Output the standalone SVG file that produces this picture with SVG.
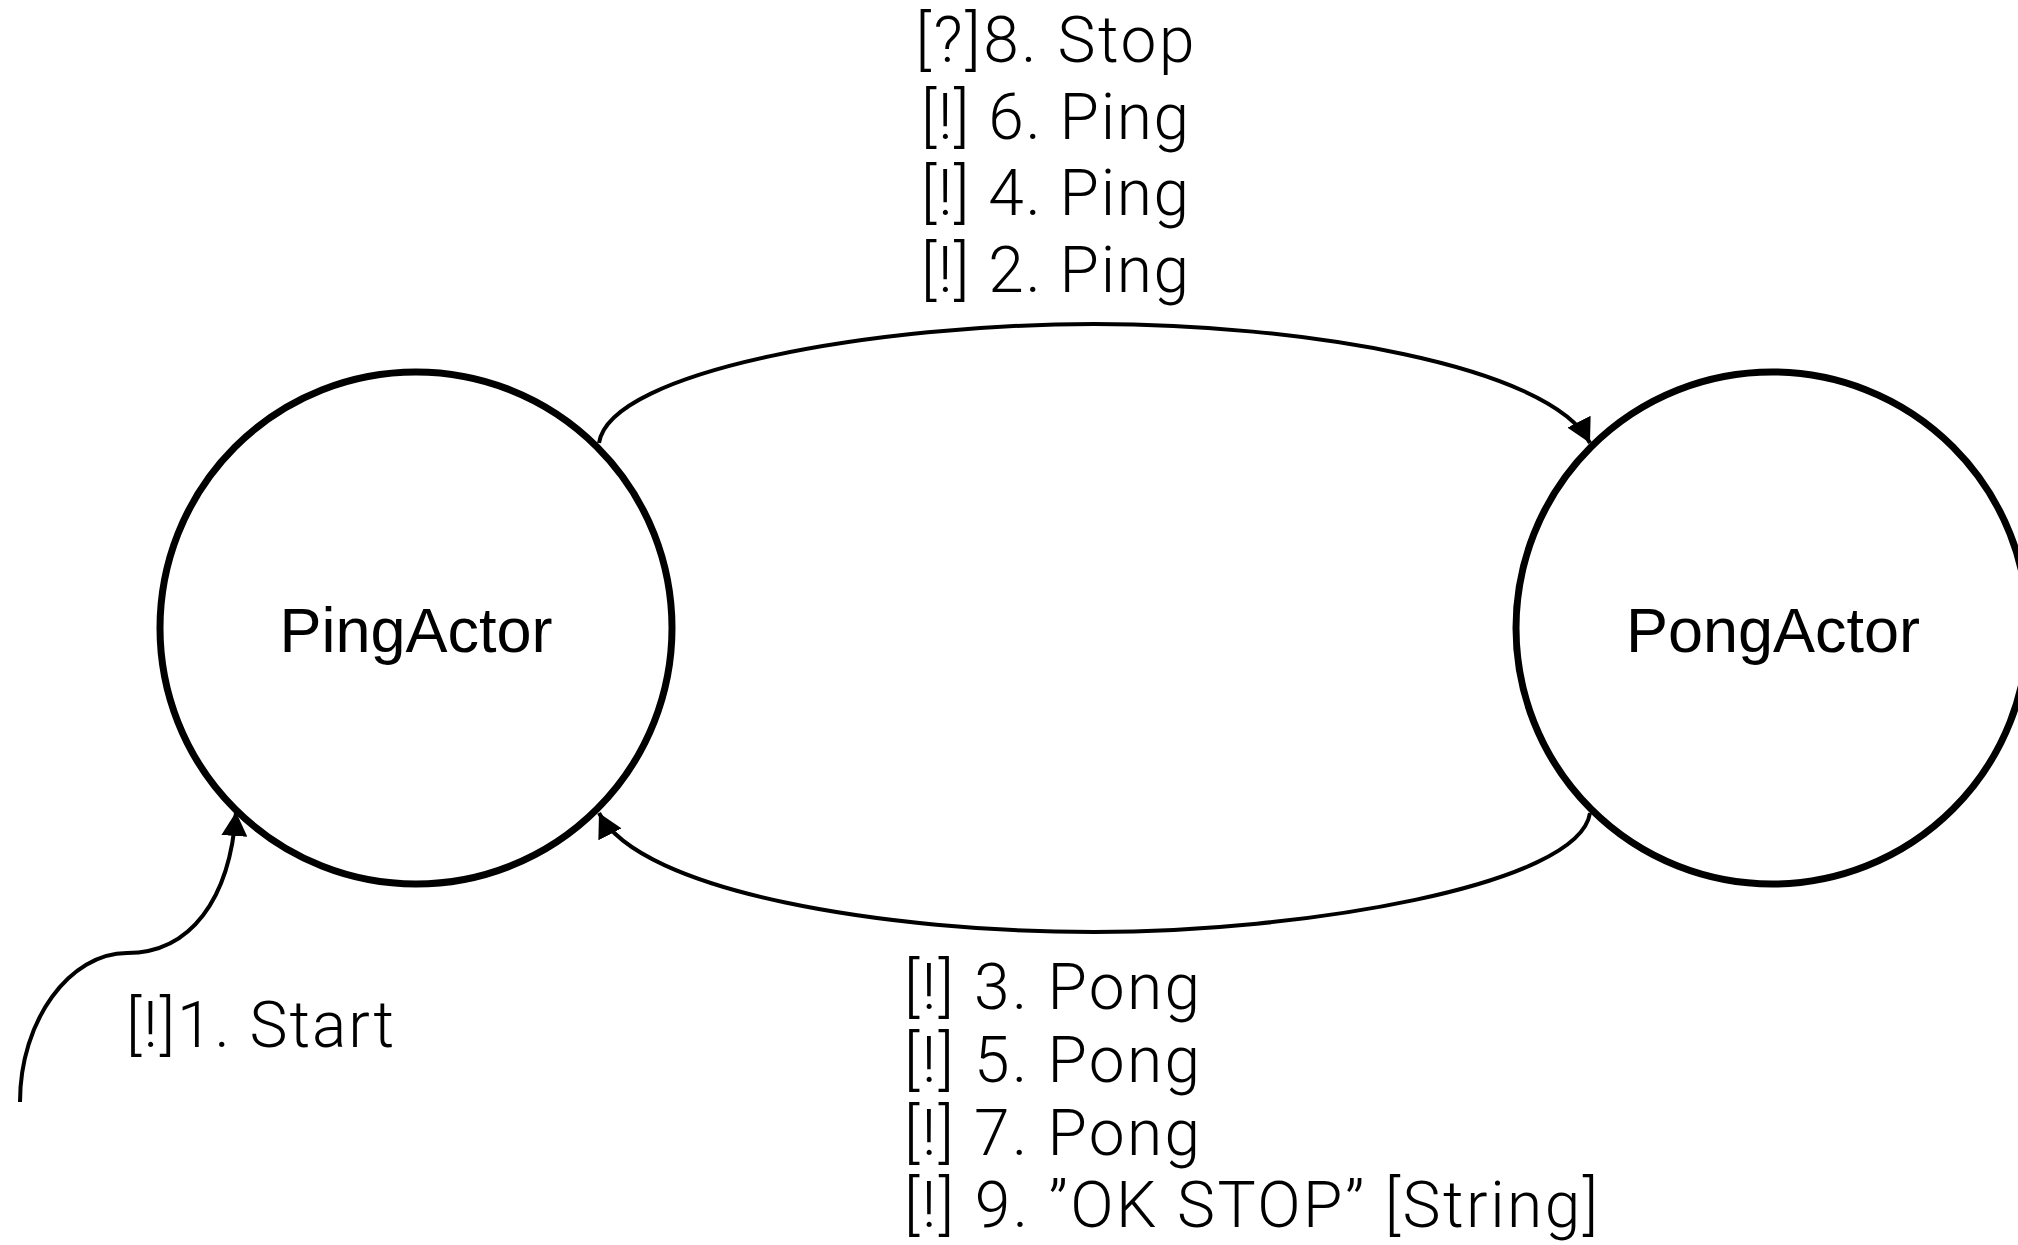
<svg xmlns="http://www.w3.org/2000/svg" width="2018" height="1245" viewBox="0 0 2018 1245">
  <style>
    .node { fill: #ffffff; stroke: #000000; stroke-width: 7; }
    .node-label { font-family: "Liberation Sans", Arial, sans-serif; font-size: 63px; fill: #000000; text-anchor: middle; }
    .edge { fill: none; stroke: #000000; stroke-width: 4; }
    .msg { font-family: Roboto, "Liberation Sans", sans-serif; font-weight: 300; font-size: 64px; fill: #000000; }
  </style>
  <defs>
    <marker id="arrow" viewBox="0 0 24 26" refX="24" refY="13" markerWidth="24" markerHeight="26" markerUnits="userSpaceOnUse" orient="auto">
      <path d="M0,0 L24,13 L0,26 Z" fill="#000000"/>
    </marker>
  </defs>

  <rect width="2018" height="1245" fill="#ffffff"/>

  <!-- actors -->
  <g id="ping-actor">
    <circle class="node" cx="416" cy="628" r="256"/>
    <text class="node-label" x="416" y="652">PingActor</text>
  </g>
  <g id="pong-actor">
    <circle class="node" cx="1772" cy="628" r="256"/>
    <text class="node-label" x="1773" y="652">PongActor</text>
  </g>

  <!-- messages between the actors -->
  <g id="connectors">
    <path id="start-edge" class="edge" d="M20,1102 C20,1020 70,953 127,953 C190,953 230,900 236,812" marker-end="url(#arrow)"/>
    <path id="ping-edge" class="edge" d="M599,443 C610,370 880,324 1094,324 C1300,324 1550,365 1590,443" marker-end="url(#arrow)"/>
    <path id="pong-edge" class="edge" d="M1590,813 C1579,886 1300,932 1094,932 C890,932 640,893 599,813" marker-end="url(#arrow)"/>
  </g>

  <!-- edge labels -->
  <g id="start-label">
    <text class="msg" x="126" y="1047" textLength="268" lengthAdjust="spacing">[!]1. Start</text>
  </g>
  <g id="ping-labels" text-anchor="middle">
    <text class="msg" x="1055" y="62" textLength="279" lengthAdjust="spacing">[?]8. Stop</text>
    <text class="msg" x="1055" y="139" textLength="268" lengthAdjust="spacing">[!] 6. Ping</text>
    <text class="msg" x="1055" y="215" textLength="268" lengthAdjust="spacing">[!] 4. Ping</text>
    <text class="msg" x="1055" y="292" textLength="268" lengthAdjust="spacing">[!] 2. Ping</text>
  </g>
  <g id="pong-labels">
    <text class="msg" x="904" y="1009" textLength="296" lengthAdjust="spacing">[!] 3. Pong</text>
    <text class="msg" x="904" y="1082" textLength="296" lengthAdjust="spacing">[!] 5. Pong</text>
    <text class="msg" x="904" y="1155" textLength="296" lengthAdjust="spacing">[!] 7. Pong</text>
    <text class="msg" x="904" y="1227" textLength="694" lengthAdjust="spacing">[!] 9. ”OK STOP” [String]</text>
  </g>
</svg>
